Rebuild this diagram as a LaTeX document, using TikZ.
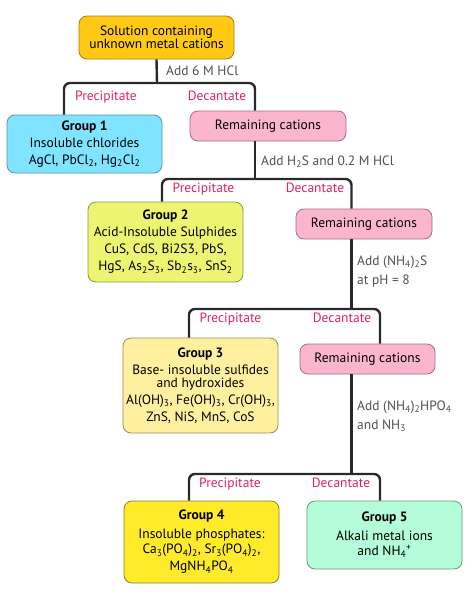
\documentclass[tikz,border=0pt]{standalone}
\usepackage{fontspec}
\setmainfont{PT Sans}
\definecolor{cTop}{HTML}{FFC914}
\definecolor{cTopB}{HTML}{A08020}
\definecolor{cG1}{HTML}{80E3FF}
\definecolor{cG1B}{HTML}{4A9AAA}
\definecolor{cRem}{HTML}{FBB6CE}
\definecolor{cRemB}{HTML}{A07080}
\definecolor{cG2}{HTML}{EDF472}
\definecolor{cG2B}{HTML}{8A9A40}
\definecolor{cG3}{HTML}{FFF0A0}
\definecolor{cG3B}{HTML}{9A8A60}
\definecolor{cG4}{HTML}{FFEB2A}
\definecolor{cG4B}{HTML}{8A8030}
\definecolor{cG5}{HTML}{B3FDD8}
\definecolor{cG5B}{HTML}{6A9A80}
\definecolor{cPD}{HTML}{E0206A}
\definecolor{cLine}{HTML}{2A2A2A}
\definecolor{cAdd}{HTML}{505050}
\newcommand{\sbs}[1]{\textsubscript{#1}}
\newcommand{\sps}[1]{\textsuperscript{#1}}
\begin{document}
\begin{tikzpicture}[x=1pt,y=-1pt,
  box/.style={draw, rounded corners=8pt, line width=0.8pt, align=center, inner sep=0pt,
              font=\fontsize{13.5}{17}\selectfont},
  conn/.style={line width=2.4pt, draw=cLine, rounded corners=6pt},
  addlab/.style={text=cAdd, anchor=west, align=left, inner sep=0pt, font=\fontsize{13.5}{19}\selectfont},
  pd/.style={text=cPD, inner sep=0pt, text height=9.5pt, text depth=3pt, font=\fontsize{13.5}{14}\selectfont}]
\useasboundingbox (0,0) rectangle (474,616);
\coordinate (j1) at (157,83);
\coordinate (j2) at (255,179);
\coordinate (j3) at (351.5,309);
\coordinate (j4) at (351.5,474);
% nodes
\node[box, fill=cTop, draw=cTopB, minimum width=155pt, minimum height=43pt,
      font=\fontsize{13.5}{12.5}\selectfont] (top) at (156.5,37.5)
  {Solution containing\\unknown metal cations};
\node[box, fill=cG1, draw=cG1B, minimum width=155pt, minimum height=58pt] (g1) at (84.5,144)
  {\textbf{Group 1}\\Insoluble chlorides\\AgCl, PbCl\sbs{2}, Hg\sbs{2}Cl\sbs{2}};
\node[box, fill=cRem, draw=cRemB, minimum width=156pt, minimum height=30pt] (r1) at (268,126)
  {Remaining cations};
\node[box, fill=cG2, draw=cG2B, minimum width=155pt, minimum height=80pt] (g2) at (165.5,242)
  {\textbf{Group 2}\\Acid-Insoluble Sulphides\\CuS, CdS, Bi2S3, PbS,\\HgS, As\sbs{2}S\sbs{3}, Sb\sbs{2}s\sbs{3}, SnS\sbs{2}};
\node[box, fill=cRem, draw=cRemB, minimum width=136pt, minimum height=30pt] (r2) at (364,224)
  {Remaining cations};
\node[box, fill=cG3, draw=cG3B, minimum width=155pt, minimum height=95pt] (g3) at (200.5,385.5)
  {\textbf{Group 3}\\Base- insoluble sulfides\\[-4pt]and hydroxides\\Al(OH)\sbs{3}, Fe(OH)\sbs{3}, Cr(OH)\sbs{3},\\ZnS, NiS, MnS, CoS};
\node[box, fill=cRem, draw=cRemB, minimum width=135pt, minimum height=30pt] (r3) at (367.5,359)
  {Remaining cations};
\node[box, fill=cG4, draw=cG4B, minimum width=155pt, minimum height=82pt] (g4) at (201.5,542)
  {\textbf{Group 4}\\[2pt]Insoluble phosphates:\\[-2pt]Ca\sbs{3}(PO\sbs{4})\sbs{2}, Sr\sbs{3}(PO\sbs{4})\sbs{2},\\MgNH\sbs{4}PO\sbs{4}};
\node[box, fill=cG5, draw=cG5B, minimum width=155pt, minimum height=68pt] (g5) at (384.5,535)
  {\textbf{Group 5}\\[2pt]Alkali metal ions\\[-2pt]and NH\sbs{4}\sps{+}};
% connectors
\draw[conn] (top.south) -- (j1);
\draw[conn] ([xshift=-20.5pt]g1.north) |- (j1) -| ([xshift=-13pt]r1.north);
\draw[conn] ([xshift=-13pt]r1.south) -- (j2);
\draw[conn] ([xshift=-3.5pt]g2.north) |- (j2) -| ([xshift=-12.5pt]r2.north);
\draw[conn] ([xshift=-12.5pt]r2.south) -- (j3);
\draw[conn] ([xshift=-11.5pt]g3.north) |- (j3) -| ([xshift=12.5pt]r3.north);
\draw[conn] ([xshift=-16pt]r3.south) -- (j4);
\draw[conn] ([xshift=-12.5pt]g4.north) |- (j4) -| ([xshift=-4.5pt]g5.north);
% labels
\node[addlab] (a1) at (166,71) {Add 6 M HCl};
\node[addlab] (a2) at (261,162) {Add H\sbs{2}S and 0.2 M HCl};
\node[addlab] (a3) at (357,271.5) {Add (NH\sbs{4})\sbs{2}S\\at pH = 8};
\node[addlab] (a4) at (357,416.5) {Add (NH\sbs{4})\sbs{2}HPO\sbs{4}\\and NH\sbs{3}};
\node[pd] (p1) at (106,97) {Precipitate};
\node[pd] (d1) at (217,97) {Decantate};
\node[pd] (p2) at (203.5,189) {Precipitate};
\node[pd] (d2) at (315,189) {Decantate};
\node[pd] (p3) at (230.5,319) {Precipitate};
\node[pd] (d3) at (342,319) {Decantate};
\node[pd] (p4) at (230,484) {Precipitate};
\node[pd] (d4) at (341,484) {Decantate};
\end{tikzpicture}
\end{document}
